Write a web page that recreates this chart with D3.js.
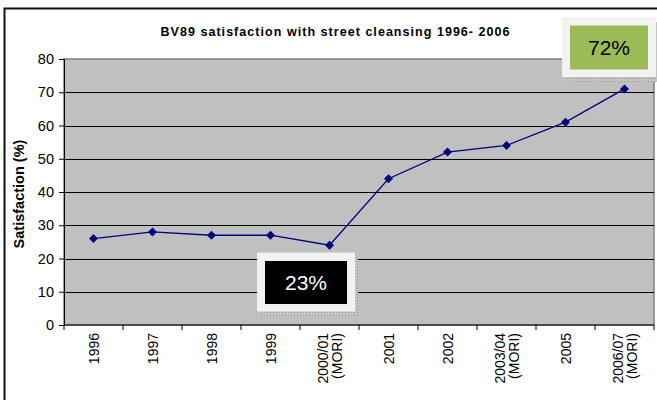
<!DOCTYPE html>
<html>
<head>
<meta charset="utf-8">
<script src="https://cdn.jsdelivr.net/npm/d3@7"></script>
<style>
  body { margin: 0; background: #fff; }
  text { font-family: "Liberation Sans", Arial, sans-serif; }
</style>
</head>
<body>
<script>
// Chart data
const categories = [["1996"], ["1997"], ["1998"], ["1999"], ["2000/01", "(MORI)"], ["2001"], ["2002"], ["2003/04", "(MORI)"], ["2005"], ["2006/07", "(MORI)"]];
const satisfaction = [26, 28, 27, 27, 24, 44, 52, 54, 61, 71];
const yTicks = [0, 10, 20, 30, 40, 50, 60, 70, 80];
const calloutLabels = ["23%", "72%"];
const calloutCategories = [4, 9];

const width = 657, height = 400;
const plot = {left: 64, right: 654, top: 59, bottom: 325};

const svg = d3.select("body").append("svg")
    .attr("width", width)
    .attr("height", height);

// Outer chart frame
svg.append("rect")
    .attr("x", 4.5).attr("y", 8.5)
    .attr("width", 700).attr("height", 450)
    .attr("fill", "#fff")
    .attr("stroke", "#111")
    .attr("stroke-width", 2);

const x = d3.scaleBand()
    .domain(d3.range(categories.length))
    .range([plot.left, plot.right]);

const y = d3.scaleLinear()
    .domain([0, 80])
    .range([plot.bottom, plot.top]);

// Plot area
svg.append("rect")
    .attr("x", plot.left).attr("y", plot.top)
    .attr("width", plot.right - plot.left)
    .attr("height", plot.bottom - plot.top)
    .attr("fill", "#c0c0c0")
    .attr("stroke", "#808080")
    .attr("stroke-width", 1.5);

// Gridlines
svg.append("g")
    .selectAll("line")
    .data(yTicks.filter(d => d > 0 && d < 80))
    .join("line")
    .attr("x1", plot.left).attr("x2", plot.right)
    .attr("y1", d => Math.round(y(d)) + 0.5)
    .attr("y2", d => Math.round(y(d)) + 0.5)
    .attr("stroke", "#000")
    .attr("stroke-width", 1);

// Y axis
const yAxis = svg.append("g")
    .attr("transform", `translate(${plot.left},0)`)
    .call(d3.axisLeft(y).tickValues(yTicks).tickSize(5).tickPadding(5));
yAxis.select(".domain").attr("stroke", "#000");
yAxis.selectAll("line").attr("stroke", "#000");
yAxis.selectAll("text")
    .attr("font-size", 14.5)
    .attr("fill", "#000")
    .style("font-family", "'Liberation Sans', Arial, sans-serif");

// X axis baseline and ticks at category boundaries
svg.append("line")
    .attr("x1", plot.left).attr("x2", plot.right)
    .attr("y1", plot.bottom).attr("y2", plot.bottom)
    .attr("stroke", "#000");
svg.append("g")
    .selectAll("line")
    .data(d3.range(categories.length + 1))
    .join("line")
    .attr("x1", d => x.range()[0] + d * x.step())
    .attr("x2", d => x.range()[0] + d * x.step())
    .attr("y1", plot.bottom).attr("y2", plot.bottom + 5)
    .attr("stroke", "#000");

// X tick labels, rotated
const xLabel = svg.append("g")
    .selectAll("text")
    .data(categories)
    .join("text")
    .attr("transform", (d, i) => `translate(${x(i) + x.bandwidth() / 2},333) rotate(-90)`)
    .attr("text-anchor", "end")
    .attr("font-size", 14)
    .attr("fill", "#000");
xLabel.selectAll("tspan")
    .data(d => d.map((t, j) => ({t, j, n: d.length})))
    .join("tspan")
    .attr("x", 0)
    .attr("y", d => d.n === 1 ? 5 : (d.j === 0 ? -1.5 : 12))
    .text(d => d.t);

// Series line
const line = d3.line()
    .x((d, i) => x(i) + x.bandwidth() / 2)
    .y(d => y(d));

svg.append("path")
    .datum(satisfaction)
    .attr("d", line)
    .attr("fill", "none")
    .attr("stroke", "#000080")
    .attr("stroke-width", 1.3);

svg.append("g")
    .selectAll("path")
    .data(satisfaction)
    .join("path")
    .attr("d", d3.symbol(d3.symbolDiamond2, 52))
    .attr("transform", (d, i) => `translate(${x(i) + x.bandwidth() / 2},${y(d)})`)
    .attr("fill", "#000080");

// Title
svg.append("text")
    .attr("x", 335).attr("y", 35.5)
    .attr("text-anchor", "middle")
    .attr("font-size", 12.5)
    .attr("font-weight", "bold")
    .attr("textLength", 349)
    .attr("lengthAdjust", "spacing")
    .text("BV89 satisfaction with street cleansing 1996- 2006");

// Y axis title
svg.append("text")
    .attr("transform", "translate(24,194) rotate(-90)")
    .attr("text-anchor", "middle")
    .attr("font-size", 14.5)
    .attr("font-weight", "bold")
    .text("Satisfaction (%)");

// Callout boxes
const defs = svg.append("defs");
const pat = defs.append("pattern")
    .attr("id", "shade")
    .attr("width", 3).attr("height", 3)
    .attr("patternUnits", "userSpaceOnUse");
pat.append("rect").attr("width", 3).attr("height", 3).attr("fill", "#c4c4c4");
pat.append("rect").attr("width", 1).attr("height", 1).attr("fill", "#8f8f8f");

const calloutStyle = [
    {dx: -72.5, top: 252.5, w: 98, h: 59, fill: "#000", color: "#fff"},
    {dx: -62.5, top: 17, w: 94, h: 60, fill: "#9bbb59", color: "#000"}
];

calloutLabels.forEach((label, k) => {
    const s = calloutStyle[k];
    const cx = x(calloutCategories[k]) + x.bandwidth() / 2;
    const left = cx + s.dx;
    const g = svg.append("g");
    g.append("rect")
        .attr("x", left + 3).attr("y", s.top + 5)
        .attr("width", s.w).attr("height", s.h)
        .attr("fill", "url(#shade)");
    g.append("rect")
        .attr("x", left).attr("y", s.top)
        .attr("width", s.w).attr("height", s.h)
        .attr("fill", "#f2f2f2");
    g.append("rect")
        .attr("x", left + 8).attr("y", s.top + 8.5)
        .attr("width", s.w - 16).attr("height", s.h - 16)
        .attr("fill", s.fill);
    g.append("text")
        .attr("x", left + s.w / 2).attr("y", s.top + s.h / 2 + 7.5)
        .attr("text-anchor", "middle")
        .attr("font-size", 21)
        .attr("fill", s.color)
        .text(label);
});
</script>
</body>
</html>
